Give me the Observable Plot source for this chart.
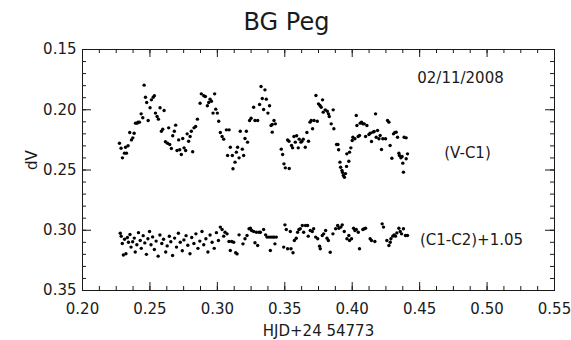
<!DOCTYPE html>
<html><head><meta charset="utf-8">
<script src="https://cdn.jsdelivr.net/npm/d3@7"></script>
<script src="https://cdn.jsdelivr.net/npm/@observablehq/plot@0.6"></script>
<style>
body{margin:0;background:#fff;}
#chart svg{display:block;}
</style></head><body><div id="chart"></div>
<script>
const title = "BG Peg";
const xLabel = "HJD+24 54773";
const yLabel = "dV";
const dateNote = "02/11/2008";
const seriesNames = ["(V-C1)", "(C1-C2)+1.05"];
const xTicks = [0.20, 0.25, 0.30, 0.35, 0.40, 0.45, 0.50, 0.55];
const yTicks = [0.15, 0.20, 0.25, 0.30, 0.35];

const vc1X = [0.2274,0.2286,0.2296,0.2311,0.2319,0.2326,0.2338,0.2350,0.2363,0.2373,0.2383,0.2393,0.2405,0.2412,0.2422,0.2435,0.2447,0.2457,0.2467,0.2476,0.2487,0.2501,0.2511,0.2524,0.2533,0.2541,0.2553,0.2563,0.2575,0.2585,0.2595,0.2605,0.2615,0.2630,0.2639,0.2647,0.2659,0.2669,0.2681,0.2691,0.2701,0.2713,0.2721,0.2733,0.2743,0.2753,0.2765,0.2776,0.2787,0.2798,0.2807,0.2817,0.2827,0.2839,0.2852,0.2872,0.2881,0.2899,0.2911,0.2926,0.2936,0.2946,0.2956,0.2968,0.2980,0.2988,0.3000,0.3010,0.3022,0.3035,0.3047,
0.3067,0.3087,0.3076,0.3096,0.3111,0.3116,0.3131,0.3141,0.3150,0.3161,0.3170,0.3185,0.3195,0.3205,0.3215,0.3224,0.3239,0.3250,0.3269,0.3279,0.3299,0.3313,0.3324,0.3333,0.3343,0.3353,0.3363,0.3375,0.3387,0.3398,0.3407,0.3420,0.3430,0.3407,0.3474,0.3484,0.3494,0.3504,0.3521,0.3533,0.3531,0.3550,0.3558,0.3568,0.3578,0.3588,0.3600,0.3607,0.3620,0.3627,0.3637,0.3652,0.3664,0.3676,0.3687,0.3696,0.3706,0.3717,0.3731,0.3741,0.3750,0.3761,0.3770,0.3780,0.3785,0.3800,0.3815,0.3824,0.3830,0.3844,0.3859,0.3864,0.3884,0.3894,0.3899,0.3909,0.3914,0.3924,
0.3928,0.3934,0.3942,0.3950,0.3958,0.3960,0.3975,0.3980,0.3990,0.4000,0.4005,0.4020,0.4030,0.4035,0.4044,0.4054,0.4059,0.4069,0.4079,0.4089,0.4099,0.4109,0.4124,0.4133,0.4143,0.4153,0.4163,0.4173,0.4178,0.4188,0.4198,0.4207,0.4217,0.4227,0.4247,0.4262,0.4272,0.4281,0.4294,0.4306,0.4316,0.4326,0.4336,0.4346,0.4350,0.4361,0.4370,0.4375,0.4380,0.4385,0.4400,0.4410,0.4400];
const vc1Y = [0.2278,0.2319,0.2399,0.2360,0.2311,0.2360,0.2299,0.2189,0.2250,0.2233,0.2195,0.2111,0.2111,0.2103,0.2103,0.2034,0.2067,0.1796,0.1896,0.1940,0.2089,0.1984,0.1918,0.1896,0.1884,0.2028,0.2056,0.2078,0.1984,0.2178,0.2161,0.2006,0.2266,0.2278,0.2150,0.2288,0.2322,0.2216,0.2178,0.2128,0.2338,0.2250,0.2332,0.2371,0.2239,0.2316,0.2338,0.2200,0.2261,0.2222,0.2178,0.2349,0.2150,0.2139,0.2078,0.1946,0.1868,0.1884,0.1890,0.1967,0.1940,0.1912,0.1929,0.2028,0.1868,0.1995,0.2028,0.2095,0.2189,0.2222,0.2244,
0.2167,0.2167,0.2380,0.2311,0.2380,0.2490,0.2435,0.2352,0.2311,0.2399,0.2178,0.2327,0.2380,0.2239,0.2178,0.2269,0.2089,0.2070,0.1979,0.2089,0.2089,0.1956,0.1807,0.1907,0.1998,0.1835,0.1912,0.2028,0.1967,0.2131,0.2122,0.2089,0.2117,0.2186,0.2327,0.2371,0.2449,0.2482,0.2250,0.2488,0.2261,0.2297,0.2316,0.2222,0.2269,0.2216,0.2316,0.2244,0.2269,0.2261,0.2244,0.2311,0.2189,0.2261,0.2103,0.2089,0.2158,0.2089,0.1882,0.2095,0.1951,0.1965,0.1979,0.1918,0.2020,0.2001,0.2012,0.2034,0.2056,0.2117,0.2001,0.2158,0.2288,0.2288,0.2332,0.2435,0.2477,0.2504,
0.2520,0.2545,0.2560,0.2530,0.2470,0.2366,0.2427,0.2352,0.2316,0.2255,0.2228,0.2241,0.2048,0.2131,0.2222,0.2214,0.2111,0.2103,0.2117,0.2117,0.2222,0.2131,0.2205,0.2195,0.2263,0.2186,0.2180,0.2034,0.2228,0.2172,0.2241,0.2214,0.2330,0.2241,0.2241,0.2089,0.2103,0.2297,0.2402,0.2200,0.2189,0.2186,0.2228,0.2360,0.2380,0.2399,0.2388,0.2443,0.2518,0.2228,0.2233,0.2366,0.2407];

const c1c2X = [0.2280,0.2287,0.2295,0.2303,0.2312,0.2322,0.2333,0.2341,0.2352,0.2360,0.2372,0.2384,0.2391,0.2403,0.2415,0.2428,0.2436,0.2450,0.2462,0.2474,0.2485,0.2497,0.2508,0.2520,0.2533,0.2546,0.2561,0.2574,0.2588,0.2601,0.2617,0.2628,0.2644,0.2655,0.2668,0.2683,0.2697,0.2711,0.2725,0.2740,0.2752,0.2768,0.2781,0.2797,0.2810,0.2826,0.2841,0.2856,0.2870,0.2886,0.2899,0.2915,0.2930,0.2946,0.2961,0.2977,0.2993,0.3008,
0.3022,0.3035,0.3047,0.3057,0.3072,0.3086,0.3096,0.3106,0.3121,0.3136,0.3146,0.3161,0.3190,0.3205,0.3220,0.3235,0.3245,0.3254,0.3269,0.3279,0.3289,0.3299,0.3309,0.3319,0.3343,0.3358,0.3368,0.3383,0.3393,0.3398,0.3412,0.3422,0.3427,0.3437,0.3492,0.3501,0.3511,0.3521,0.3541,0.3546,0.3561,0.3571,0.3585,0.3595,0.3605,0.3615,0.3630,0.3640,0.3654,0.3669,0.3674,0.3689,0.3704,0.3714,0.3729,0.3744,0.3758,0.3763,0.3778,0.3788,0.3803,0.3813,0.3823,0.3837,0.3857,0.3877,0.3892,0.3901,
0.3916,0.3926,0.3941,0.3961,0.3975,0.3980,0.3995,0.4010,0.4020,0.4030,0.4045,0.4054,0.4079,0.4089,0.4099,0.4133,0.4143,0.4168,0.4222,0.4232,0.4257,0.4272,0.4282,0.4287,0.4301,0.4311,0.4321,0.4331,0.4346,0.4356,0.4366,0.4380,0.4395,0.4410];
const c1c2Y = [0.3025,0.3050,0.3110,0.3205,0.3075,0.3195,0.3060,0.3100,0.3035,0.3140,0.3095,0.3065,0.3180,0.3120,0.3020,0.3085,0.3150,0.3045,0.3105,0.3200,0.3070,0.3010,0.3120,0.3055,0.3160,0.3090,0.3215,0.3040,0.3110,0.3075,0.3180,0.3130,0.3050,0.3095,0.3210,0.3065,0.3140,0.3025,0.3100,0.3170,0.3080,0.3045,0.3125,0.3195,0.3060,0.3110,0.3030,0.3150,0.3090,0.3010,0.3120,0.3070,0.3180,0.3040,0.3100,0.3150,0.3020,0.3085,
0.2974,0.2994,0.3049,0.3016,0.3030,0.3093,0.3168,0.3093,0.3099,0.3187,0.3196,0.3038,0.3113,0.3071,0.3044,0.2988,0.2983,0.3002,0.3010,0.3104,0.3016,0.3127,0.3016,0.3016,0.2994,0.3038,0.3057,0.3057,0.3168,0.3057,0.3057,0.3057,0.3113,0.3057,0.3140,0.2955,0.2994,0.3154,0.3010,0.3154,0.3187,0.3085,0.3066,0.3016,0.2994,0.2988,0.2961,0.3016,0.2961,0.2961,0.3049,0.3002,0.3010,0.2988,0.3057,0.3071,0.3132,0.3154,0.3044,0.3030,0.3002,0.3066,0.3085,0.3182,0.3030,0.2988,0.2961,0.2983,
0.2974,0.2955,0.3010,0.3071,0.3044,0.3085,0.3071,0.2983,0.3002,0.2994,0.3016,0.3154,0.2994,0.2988,0.2983,0.3071,0.3085,0.3093,0.2947,0.2974,0.3085,0.3127,0.3099,0.3071,0.3049,0.3038,0.3049,0.3022,0.2983,0.3010,0.3030,0.2988,0.3044,0.3044];

const vc1 = vc1X.map((x, i) => ({x, y: vc1Y[i]}));
const c1c2 = c1c2X.map((x, i) => ({x, y: c1c2Y[i]}));

const W = 571, H = 340, mL = 82, mR = 17, mT = 49, mB = 50;
const iW = W - mL - mR, iH = H - mT - mB;
const xMinor = d3.range(0, 29).map(i => 0.20 + i * 0.0125);
const yMinor = d3.range(0, 21).map(i => 0.15 + i * 0.01);
const font = "'DejaVu Sans', sans-serif";
const ink = "#1a1a1a";

const chart = Plot.plot({
  width: W, height: H,
  marginLeft: mL, marginRight: mR, marginTop: mT, marginBottom: mB,
  style: {fontFamily: font, fontSize: "15px", color: ink, background: "#fff"},
  x: {domain: [0.20, 0.55]},
  y: {domain: [0.15, 0.35], reverse: true},
  marks: [
    Plot.frame({stroke: ink, strokeWidth: 1}),
    Plot.ruleX(xMinor, {x: d => d, insetTop: iH - 4, stroke: ink}),
    Plot.ruleX(xMinor, {x: d => d, insetBottom: iH - 4, stroke: ink}),
    Plot.ruleX(xTicks, {x: d => d, insetTop: iH - 8, stroke: ink}),
    Plot.ruleX(xTicks, {x: d => d, insetBottom: iH - 8, stroke: ink}),
    Plot.ruleY(yMinor, {y: d => d, insetRight: iW - 4, stroke: ink}),
    Plot.ruleY(yMinor, {y: d => d, insetLeft: iW - 4, stroke: ink}),
    Plot.ruleY(yTicks, {y: d => d, insetRight: iW - 9, stroke: ink}),
    Plot.ruleY(yTicks, {y: d => d, insetLeft: iW - 9, stroke: ink}),
    Plot.axisX({ticks: xTicks, anchor: "bottom", tickSize: 0, tickPadding: 13, tickFormat: d3.format(".2f"), label: null, fontSize: 15}),
    Plot.axisY({ticks: yTicks, anchor: "left", tickSize: 0, tickPadding: 6, tickFormat: d3.format(".2f"), label: null, fontSize: 15}),
    Plot.dot(vc1, {x: "x", y: "y", r: 1.7, fill: "#000", stroke: null}),
    Plot.dot(c1c2, {x: "x", y: "y", r: 1.7, fill: "#000", stroke: null}),
    Plot.text([title], {frameAnchor: "top-left", dx: 286 - mL, dy: -27, text: d => d, fontSize: 24, textAnchor: "middle", lineAnchor: "middle", fill: ink}),
    Plot.text([xLabel], {frameAnchor: "bottom", dy: 41, text: d => d, fontSize: 15, lineAnchor: "middle", fill: ink}),
    Plot.text([yLabel], {frameAnchor: "left", dx: -50, text: d => d, fontSize: 15, rotate: -90, lineAnchor: "middle", fill: ink}),
    Plot.text([dateNote], {frameAnchor: "top-left", dx: 460 - mL, dy: 29, text: d => d, fontSize: 15, textAnchor: "middle", lineAnchor: "middle", fill: ink}),
    Plot.text([seriesNames[0]], {frameAnchor: "top-left", dx: 467 - mL, dy: 153 - mT, text: d => d, fontSize: 15, textAnchor: "middle", lineAnchor: "middle", fill: ink}),
    Plot.text([seriesNames[1]], {frameAnchor: "top-left", dx: 471 - mL, dy: 240 - mT, text: d => d, fontSize: 15, textAnchor: "middle", lineAnchor: "middle", fill: ink})
  ]
});
document.getElementById("chart").appendChild(chart);
</script></body></html>
